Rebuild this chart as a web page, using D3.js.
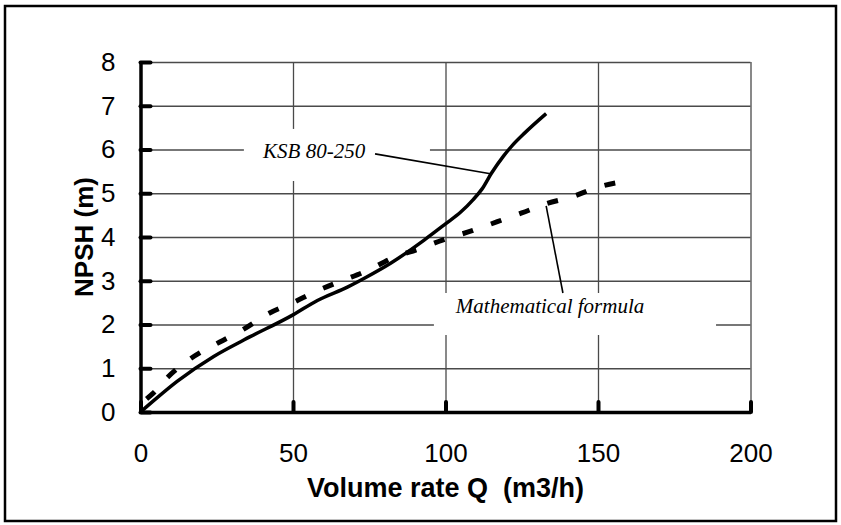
<!DOCTYPE html>
<html>
<head>
<meta charset="utf-8">
<script src="https://cdn.jsdelivr.net/npm/d3@7"></script>
<style>
  body { margin: 0; background: #fff; }
  svg { display: block; }
</style>
</head>
<body>
<svg id="viz" width="841" height="525"></svg>
<script>
// KSB 80-250 pump curve
const ksbQ    = [0, 5, 12, 24, 34, 50, 58, 68, 74, 82, 93, 100, 105, 109, 112, 115, 119, 122, 126, 133]
const ksbNpsh = [0, 0.3, 0.7, 1.27, 1.65, 2.22, 2.55, 2.86, 3.08, 3.40, 3.93, 4.3, 4.57, 4.85, 5.1, 5.45, 5.85, 6.1, 6.38, 6.82]

// mathematical formula curve
const mathQ    = [2, 4, 9, 16, 26, 34, 42, 50, 58, 66, 74, 83, 91, 99, 109, 117, 125, 133, 142, 149, 158.5]
const mathNpsh = [0.3, 0.42, 0.8, 1.2, 1.6, 1.9, 2.25, 2.5, 2.77, 3.0, 3.22, 3.53, 3.72, 3.93, 4.15, 4.35, 4.55, 4.76, 4.93, 5.12, 5.27]

const xTicks = [0, 50, 100, 150, 200]
const yTicks = [0, 1, 2, 3, 4, 5, 6, 7, 8]

const PLOT = { left: 140.5, right: 750.5, top: 62, bottom: 412 }

var svg = d3.select("svg#viz")
const width = +svg.attr('width')
const height = +svg.attr('height')

// outer frame
svg.append('rect')
    .attr('x', 5).attr('y', 6)
    .attr('width', width - 10).attr('height', height - 10)
    .attr('fill', 'none')
    .attr('stroke', '#000')
    .attr('stroke-width', 2.5)

const x = d3.scaleLinear().domain([0, 200]).range([PLOT.left, PLOT.right])
const y = d3.scaleLinear().domain([0, 8]).range([PLOT.bottom, PLOT.top])

// grid
let grid = svg.append('g')
grid.append('g')
    .attr('transform', `translate(${PLOT.left},0)`)
    .call(d3.axisLeft(y).tickValues(yTicks.slice(1)).tickSize(-(PLOT.right - PLOT.left)).tickFormat(''))
grid.append('g')
    .attr('transform', `translate(0,${PLOT.bottom})`)
    .call(d3.axisBottom(x).tickValues(xTicks.slice(1)).tickSize(-(PLOT.bottom - PLOT.top)).tickFormat(''))
grid.selectAll('.domain').remove()
grid.selectAll('line').attr('stroke', '#4a4a4a').attr('stroke-width', 1.3)

// annotation boxes hide the grid (data units)
const annotations = [
    { text: 'KSB 80-250', tx: 40.2, ty: 5.81, box: [33.9, 94.9, 6.47, 5.28], lead: [[76.9, 5.9], [115.2, 5.44]] },
    { text: 'Mathematical formula', tx: 103.4, ty: 2.26, box: [96.2, 188.7, 2.72, 1.76], lead: [[133, 4.71], [138.5, 2.72]] }
]

svg.append('g').selectAll('rect')
    .data(annotations)
    .join('rect')
    .attr('x', d => x(d.box[0]))
    .attr('width', d => x(d.box[1]) - x(d.box[0]))
    .attr('y', d => y(d.box[2]))
    .attr('height', d => y(d.box[3]) - y(d.box[2]))
    .attr('fill', '#fff')

// series
const line = d3.line().x(d => x(d[0])).y(d => y(d[1])).curve(d3.curveMonotoneX)

svg.append('path')
    .datum(mathQ.map((q, i) => [q, mathNpsh[i]]))
    .attr('d', line)
    .attr('fill', 'none')
    .attr('stroke', '#000')
    .attr('stroke-width', 5)
    .attr('stroke-dasharray', '11 19')

svg.append('path')
    .datum(ksbQ.map((q, i) => [q, ksbNpsh[i]]))
    .attr('d', line)
    .attr('fill', 'none')
    .attr('stroke', '#000')
    .attr('stroke-width', 3.5)
    .attr('stroke-linejoin', 'round')

// annotation texts and leader lines
svg.append('g').selectAll('line')
    .data(annotations)
    .join('line')
    .attr('x1', d => x(d.lead[0][0])).attr('y1', d => y(d.lead[0][1]))
    .attr('x2', d => x(d.lead[1][0])).attr('y2', d => y(d.lead[1][1]))
    .attr('stroke', '#000')
    .attr('stroke-width', 1.6)

svg.append('g').selectAll('text')
    .data(annotations)
    .join('text')
    .attr('x', d => x(d.tx))
    .attr('y', d => y(d.ty))
    .attr('font-family', '"Liberation Serif", "Times New Roman", serif')
    .attr('font-style', 'italic')
    .attr('font-size', 21)
    .text(d => d.text)

// axes
let yAxis = svg.append('g')
    .attr('transform', `translate(${PLOT.left},0)`)
    .call(d3.axisLeft(y).tickValues(yTicks).tickSize(-10).tickSizeOuter(0).tickPadding(25))
let xAxis = svg.append('g')
    .attr('transform', `translate(0,${PLOT.bottom})`)
    .call(d3.axisBottom(x).tickValues(xTicks).tickSize(-10).tickSizeOuter(0).tickPadding(32))

for (let ax of [xAxis, yAxis]) {
    ax.select('.domain').attr('stroke', '#000').attr('stroke-width', 3.5)
    ax.selectAll('.tick line').attr('stroke', '#000').attr('stroke-width', 4).attr('stroke-linecap', 'round')
    ax.selectAll('.tick text')
        .attr('font-family', '"Liberation Sans", Arial, sans-serif')
        .attr('font-size', 26)
        .attr('fill', '#000')
}

// axis titles
svg.append('text')
    .attr('x', (PLOT.left + PLOT.right) / 2)
    .attr('y', 497)
    .attr('text-anchor', 'middle')
    .attr('font-family', '"Liberation Sans", Arial, sans-serif')
    .attr('font-weight', 'bold')
    .attr('font-size', 27)
    .attr('xml:space', 'preserve')
    .text('Volume rate Q  (m3/h)')

svg.append('text')
    .attr('transform', `translate(93,${(PLOT.top + PLOT.bottom) / 2}) rotate(-90)`)
    .attr('text-anchor', 'middle')
    .attr('font-family', '"Liberation Sans", Arial, sans-serif')
    .attr('font-weight', 'bold')
    .attr('font-size', 26)
    .text('NPSH (m)')
</script>
</body>
</html>
